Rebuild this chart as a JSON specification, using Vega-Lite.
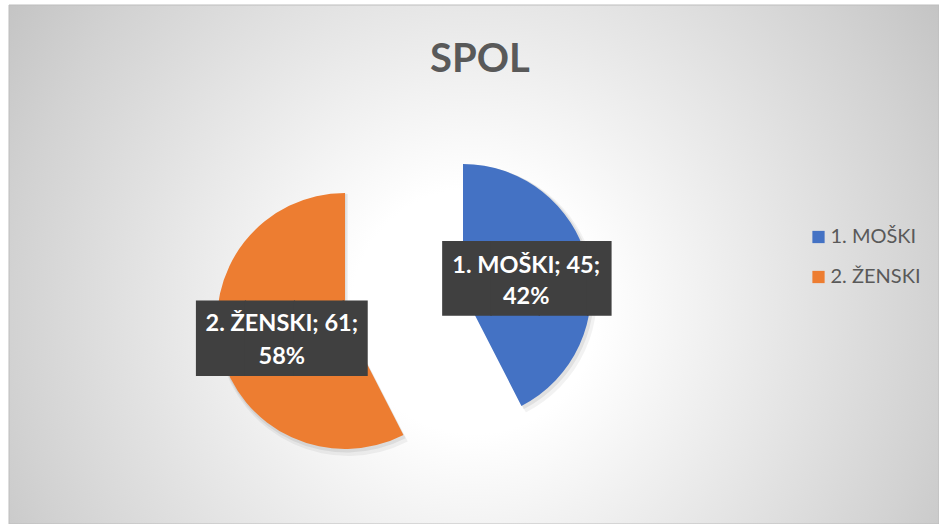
{
  "$schema": "https://vega.github.io/schema/vega-lite/v6.json",
  "autosize": {"type": "none"},
  "width": 930,
  "height": 519,
  "padding": {"left": 9, "top": 5, "right": 0, "bottom": 0},
  "background": "#ffffff",
  "config": {"view": {"stroke": null}},
  "title": {
    "text": "SPOL",
    "font": "Lato",
    "fontSize": 40,
    "fontWeight": "bold",
    "color": "#595959",
    "anchor": "middle",
    "baseline": "alphabetic",
    "offset": -65,
    "dy": 42,
    "dx": 6
  },
  "data": {
    "values": [
      {"spol": "1. MOŠKI", "n": 45},
      {"spol": "2. ŽENSKI", "n": 61}
    ]
  },
  "transform": [
    {"joinaggregate": [{"op": "sum", "field": "n", "as": "total"}]},
    {"calculate": "[datum.spol + '; ' + datum.n + ';', format(datum.n / datum.total, '.0%')]", "as": "label"}
  ],
  "encoding": {
    "theta": {"field": "n", "type": "quantitative", "stack": true},
    "order": {"field": "spol", "type": "ordinal"}
  },
  "layer": [
    {
      "data": {"values": [{"bg": 1}]},
      "mark": {
        "type": "rect",
        "stroke": "#bdbdbd",
        "strokeWidth": 1,
        "fill": {
          "gradient": "radial",
          "x1": 0.5, "y1": 0.55, "r1": 0,
          "x2": 0.5, "y2": 0.55, "r2": 0.6,
          "stops": [
            {"offset": 0, "color": "#ffffff"},
            {"offset": 0.22, "color": "#ffffff"},
            {"offset": 0.45, "color": "#eeeeee"},
            {"offset": 0.83, "color": "#d2d2d2"},
            {"offset": 1, "color": "#c4c4c4"}
          ]
        }
      },
      "encoding": {"theta": null, "order": null}
    },
    {
      "mark": {"type": "arc", "radius": 131, "xOffset": -8, "yOffset": 31.5, "fill": "#000000"},
      "encoding": {
        "opacity": {"condition": {"test": "datum.spol === '1. MOŠKI'", "value": 0.05}, "value": 0}
      }
    },
    {
      "mark": {"type": "arc", "radius": 129.5, "xOffset": -9.5, "yOffset": 29.5, "fill": "#000000"},
      "encoding": {
        "opacity": {"condition": {"test": "datum.spol === '1. MOŠKI'", "value": 0.07}, "value": 0}
      }
    },
    {
      "mark": {"type": "arc", "radius": 131, "xOffset": -126, "yOffset": 60.5, "fill": "#000000"},
      "encoding": {
        "opacity": {"condition": {"test": "datum.spol === '2. ŽENSKI'", "value": 0.05}, "value": 0}
      }
    },
    {
      "mark": {"type": "arc", "radius": 129.5, "xOffset": -127.5, "yOffset": 58.5, "fill": "#000000"},
      "encoding": {
        "opacity": {"condition": {"test": "datum.spol === '2. ŽENSKI'", "value": 0.07}, "value": 0}
      }
    },
    {
      "mark": {"type": "arc", "radius": 128, "xOffset": -11, "yOffset": 27.5},
      "encoding": {
        "color": {
          "field": "spol",
          "type": "nominal",
          "scale": {"domain": ["1. MOŠKI", "2. ŽENSKI"], "range": ["#4472C4", "#ED7D31"]},
          "legend": {
            "title": null,
            "orient": "none",
            "legendX": 799.5,
            "legendY": 222,
            "symbolType": "square",
            "symbolSize": 150,
            "symbolStrokeWidth": 0,
            "symbolOpacity": 1,
            "labelFont": "Lato",
            "labelFontSize": 20,
            "labelColor": "#595959",
            "labelOffset": 2,
            "rowPadding": 20,
            "padding": 0
          }
        },
        "opacity": {"condition": {"test": "datum.spol === '1. MOŠKI'", "value": 1}, "value": 0}
      }
    },
    {
      "mark": {"type": "arc", "radius": 128, "xOffset": -129, "yOffset": 56.5},
      "encoding": {
        "color": {"field": "spol", "type": "nominal"},
        "opacity": {"condition": {"test": "datum.spol === '2. ŽENSKI'", "value": 1}, "value": 0}
      }
    },
    {
      "mark": {"type": "text", "radius": 65, "xOffset": -11, "yOffset": 27.5, "font": "DejaVu Sans", "fontSize": 62.8, "fill": "#404040", "align": "left", "dx": -83.5, "dy": 4.5, "baseline": "middle"},
      "encoding": {
        "detail": {"field": "spol"},
        "text": {"value": "███▌"},
        "opacity": {"condition": {"test": "datum.spol === '1. MOŠKI'", "value": 1}, "value": 0}
      }
    },
    {
      "mark": {"type": "text", "radius": 65, "xOffset": -129, "yOffset": 56.5, "font": "DejaVu Sans", "fontSize": 63.6, "fill": "#404040", "align": "left", "dx": -85, "dy": 4.5, "baseline": "middle"},
      "encoding": {
        "detail": {"field": "spol"},
        "text": {"value": "███▌"},
        "opacity": {"condition": {"test": "datum.spol === '2. ŽENSKI'", "value": 1}, "value": 0}
      }
    },
    {
      "mark": {"type": "text", "radius": 65, "xOffset": -11, "yOffset": 27.5, "font": "Lato", "fontSize": 23.5, "fontWeight": "bold", "fill": "#ffffff", "align": "center", "baseline": "middle", "lineHeight": 31, "dy": -11},
      "encoding": {
        "detail": {"field": "spol"},
        "text": {"field": "label"},
        "opacity": {"condition": {"test": "datum.spol === '1. MOŠKI'", "value": 1}, "value": 0}
      }
    },
    {
      "mark": {"type": "text", "radius": 65, "xOffset": -129, "yOffset": 56.5, "font": "Lato", "fontSize": 23.5, "fontWeight": "bold", "fill": "#ffffff", "align": "center", "baseline": "middle", "lineHeight": 33, "dy": -12.5},
      "encoding": {
        "detail": {"field": "spol"},
        "text": {"field": "label"},
        "opacity": {"condition": {"test": "datum.spol === '2. ŽENSKI'", "value": 1}, "value": 0}
      }
    }
  ]
}
